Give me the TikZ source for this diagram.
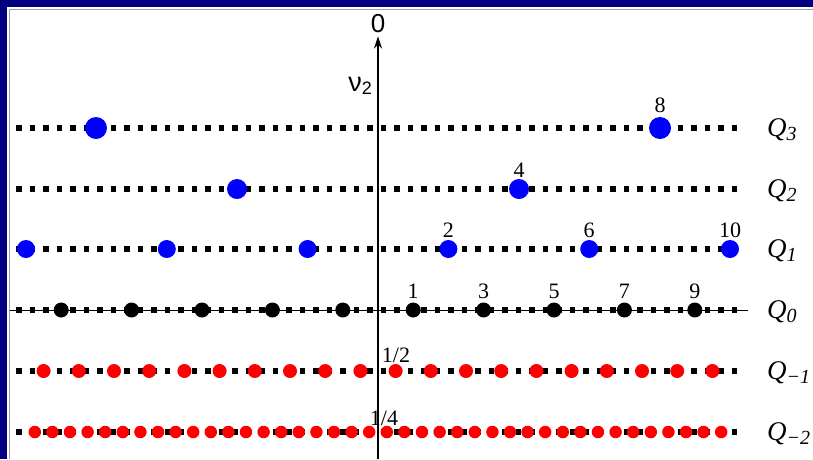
\documentclass[tikz,border=0pt]{standalone}
\usepackage{fontspec}
\setmainfont{Liberation Serif}
\setsansfont{Liberation Sans}
\usetikzlibrary{arrows.meta}
\definecolor{framenavy}{RGB}{0,0,128}
\definecolor{framegray}{RGB}{160,160,160}
\newcommand{\qlab}[1]{\fontsize{27}{30}\selectfont\textit{Q}\raisebox{-4pt}{\fontsize{20}{22}\selectfont\textit{#1}}}

\begin{document}
\begin{tikzpicture}[
  x=1pt,y=-1pt,  lev/.style={line width=6pt,dash pattern=on 5.5pt off 8pt},  bdot/.style={circle,fill=blue,inner sep=0pt},  kdot/.style={circle,fill=black,inner sep=0pt,minimum size=15pt},  rdot/.style={circle,fill=red,inner sep=0pt},  num/.style={font=\fontsize{22}{24}\selectfont,inner sep=0pt},  qname/.style={anchor=west,inner sep=0pt}
]
  \useasboundingbox (0,0) rectangle (813,459);
  \fill[framenavy] (0,0) rectangle (813,459);
  \fill[white] (7,7) rectangle (813,459);
  \draw[framegray,line width=1.5pt] (9.5,459) -- (9.5,9.3) -- (813,9.3);
  % axis
  \coordinate (base) at (378,459);
  \node[font=\sffamily\fontsize{26}{28}\selectfont,inner sep=0pt] (zero) at (378,24) {0};
  \node[font=\sffamily\fontsize{27}{29}\selectfont,inner sep=0pt] (nu) at (360,86) {ν\raisebox{-3pt}{\fontsize{18}{20}\selectfont 2}};
  \draw[line width=2pt,-{Stealth[length=12pt,width=8pt]},shorten >=3pt] (base) -- (zero.south);
  % levels
  \coordinate (q0a) at (10,310);
  \coordinate (q0b) at (748,310);
  \draw[line width=1pt] (q0a) -- (q0b);
  \foreach \r/\y/\s in {3/128/3,2/189/2,1/249/1,0/310/0,m1/371/−1,m2/432/−2}{
    \coordinate (a\r) at (16,\y);
    \coordinate (b\r) at (738,\y);
    \draw[lev] (a\r) -- (b\r);
    \node[qname] (Q\r) at (767,\y+2) {\qlab{\s}};
  }
  % Q3, Q2
  \node[bdot,minimum size=22pt] (p3a) at (96,128) {};
  \node[bdot,minimum size=22pt] (p3b) at (660,128) {};
  \node[num] (l8) at (660,105) {8};
  \node[bdot,minimum size=20pt] (p2a) at (237,189) {};
  \node[bdot,minimum size=20pt] (p2b) at (519,189) {};
  \node[num] (l4) at (519,170) {4};
  % Q1
  \foreach \k in {-10,-6,-2,2,6,10}
    \node[bdot,minimum size=18pt] (p1\k) at ({378+35.2*\k},249) {};
  \foreach \k in {2,6,10}
    \node[num] (l\k) at ({378+35.2*\k},230) {\k};
  % Q0
  \foreach \k in {-9,-7,...,9}
    \node[kdot] (p0\k) at ({378+35.2*\k},310) {};
  \foreach \k in {1,3,...,9}
    \node[num] (l\k) at ({378+35.2*\k},291) {\k};
  % Q-1, Q-2
  \foreach \k in {-10,...,9}
    \node[rdot,minimum size=14pt] (pm1\k) at ({378+35.2*(\k+0.5)},371) {};
  \foreach \k in {-20,...,19}
    \node[rdot,minimum size=12.5pt] (pm2\k) at ({378+17.6*(\k+0.5)},432) {};
  \node[num] (lhalf) at (396,355) {1/2};
  \node[num] (lquart) at (384,418) {1/4};
\end{tikzpicture}
\end{document}
